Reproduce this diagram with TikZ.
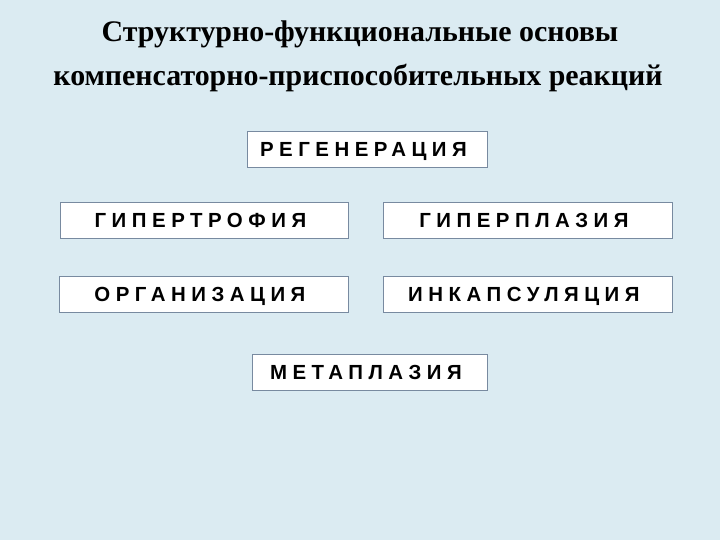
\documentclass[tikz,border=0pt]{standalone}
\usepackage{fontspec}
\setmainfont{Liberation Serif}
\newfontfamily\boxfont[LetterSpace=27]{Liberation Sans Bold}
\definecolor{bgblue}{RGB}{219,235,242}
\definecolor{edgegray}{RGB}{120,138,160}
\begin{document}
\begin{tikzpicture}[x=1bp,y=-1bp,
  termbox/.style={draw=edgegray, line width=0.8bp, fill=white, minimum height=36bp, inner sep=0pt,
    text height=14.7bp, text depth=0bp, text=black,
    font=\boxfont\fontsize{20.5}{24}\selectfont,
    execute at end node={\kern0.35em}},
  titletext/.style={font=\bfseries\fontsize{30}{36}\selectfont, anchor=base, inner sep=0pt}]
\fill[bgblue] (0,0) rectangle (720,540);
\useasboundingbox (0,0) rectangle (720,540);
\node[titletext] (title1) at (360,42) {Структурно-функциональные основы};
\node[titletext] (title2) at (358,86) {компенсаторно-приспособительных реакций};
\node[termbox, minimum width=240bp] (reg) at (367,149) {РЕГЕНЕРАЦИЯ};
\node[termbox, minimum width=288bp] (gtr) at (204,220.5) {ГИПЕРТРОФИЯ};
\node[termbox, minimum width=289bp] (gpl) at (527.5,220.5) {ГИПЕРПЛАЗИЯ};
\node[termbox, minimum width=289bp] (org) at (203.5,294) {ОРГАНИЗАЦИЯ};
\node[termbox, minimum width=289bp] (ink) at (527.5,294) {ИНКАПСУЛЯЦИЯ};
\node[termbox, minimum width=235bp] (met) at (369.5,372) {МЕТАПЛАЗИЯ};
\end{tikzpicture}
\end{document}
